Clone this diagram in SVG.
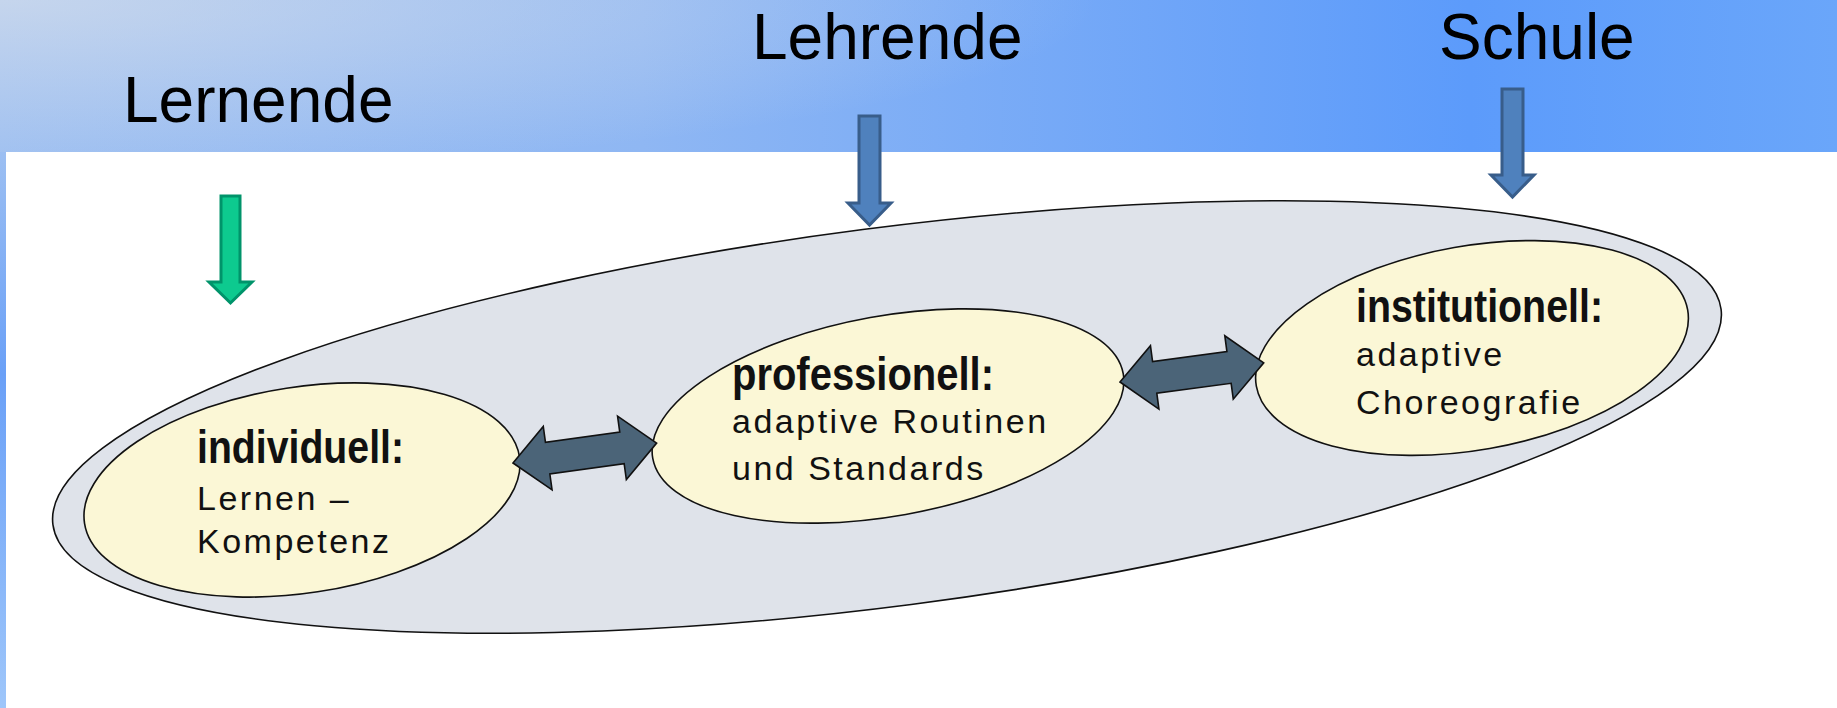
<svg xmlns="http://www.w3.org/2000/svg" width="1837" height="708" viewBox="0 0 1837 708">
  <defs>
    <!-- header band: blue ramp across, with a greyish glow in the upper left -->
    <linearGradient id="bandFill" gradientUnits="userSpaceOnUse" x1="0" y1="0" x2="1837" y2="0">
      <stop offset="0" stop-color="#9dbff1"/>
      <stop offset="0.35" stop-color="#8fb7f3"/>
      <stop offset="0.8" stop-color="#5c9bfb"/>
      <stop offset="1" stop-color="#6aa6fa"/>
    </linearGradient>
    <radialGradient id="bandGlow" gradientUnits="userSpaceOnUse" cx="0" cy="0" r="1"
                    gradientTransform="translate(0 0) scale(1100 175)">
      <stop offset="0" stop-color="#e0e4ea" stop-opacity="0.6"/>
      <stop offset="1" stop-color="#e0e4ea" stop-opacity="0"/>
    </radialGradient>
    <linearGradient id="edgeFill" x1="0" y1="0" x2="0" y2="1">
      <stop offset="0" stop-color="#9cbff2"/>
      <stop offset="0.4" stop-color="#6aa0f7"/>
      <stop offset="1" stop-color="#9ec6fa"/>
    </linearGradient>
    <path id="twoWay" d="M0,0 L35,-32 L35,-16 L110,-16 L110,-32 L145,0 L110,32 L110,16 L35,16 L35,32 Z"/>
  </defs>
  <style>
    .heading { font-family: "Liberation Sans", Arial, sans-serif; font-size: 64px; fill: #000; }
    .outer { fill: #dfe3ea; stroke: #111; stroke-width: 1.6; }
    .inner { fill: #fbf7d6; stroke: #111; stroke-width: 1.6; }
    .title { font-family: "Liberation Sans", Arial, sans-serif; font-weight: bold; font-size: 47px; fill: #111; }
    .body { font-family: "Liberation Sans", Arial, sans-serif; font-size: 34px; letter-spacing: 2.5px; fill: #111; }
    .link { fill: #4b6478; stroke: #111; stroke-width: 1.6; stroke-linejoin: miter; }
    .down-green { fill: #0dca8f; stroke: #00936a; stroke-width: 3; }
    .down-blue { fill: #4f81bd; stroke: #385d8a; stroke-width: 3; }
  </style>

  <!-- page background -->
  <rect x="0" y="0" width="1837" height="708" fill="#ffffff"/>
  <rect x="0" y="0" width="1837" height="152" fill="url(#bandFill)"/>
  <rect x="0" y="0" width="1837" height="152" fill="url(#bandGlow)"/>
  <rect x="0" y="152" width="6" height="556" fill="url(#edgeFill)"/>

  <!-- actor headings -->
  <g id="label-lernende"><text class="heading" x="123" y="122">Lernende</text></g>
  <g id="label-lehrende"><text class="heading" x="752" y="59">Lehrende</text></g>
  <g id="label-schule"><text class="heading" x="1439" y="59">Schule</text></g>

  <!-- enclosing level -->
  <g id="frame">
    <ellipse class="outer" cx="887" cy="417" rx="841" ry="189" transform="rotate(-7.36 887 417)"/>
  </g>

  <g id="node-individuell">
    <ellipse class="inner" cx="302" cy="490" rx="220" ry="103" transform="rotate(-8.7 302 490)"/>
    <text class="title" x="197" y="463" textLength="207" lengthAdjust="spacingAndGlyphs">individuell:</text>
    <text class="body" x="197" y="510">Lernen –</text>
    <text class="body" x="197" y="553">Kompetenz</text>
  </g>

  <g id="node-professionell">
    <ellipse class="inner" cx="888" cy="416" rx="239" ry="100" transform="rotate(-10.2 888 416)"/>
    <text class="title" x="732" y="390" textLength="262" lengthAdjust="spacingAndGlyphs">professionell:</text>
    <text class="body" x="732" y="433">adaptive Routinen</text>
    <text class="body" x="732" y="480">und Standards</text>
  </g>

  <g id="node-institutionell">
    <ellipse class="inner" cx="1472" cy="348" rx="219" ry="102" transform="rotate(-10 1472 348)"/>
    <text class="title" x="1356" y="322" textLength="247" lengthAdjust="spacingAndGlyphs">institutionell:</text>
    <text class="body" x="1356" y="366">adaptive</text>
    <text class="body" x="1356" y="414">Choreografie</text>
  </g>

  <g id="connectors">
    <!-- two-way links between levels -->
    <use href="#twoWay" class="link" transform="translate(513 463) rotate(-7.9)"/>
    <use href="#twoWay" class="link" transform="translate(1120 382) rotate(-7.6)"/>
    <!-- arrows from the actors down to the levels -->
    <path class="down-green" d="M221,196 H240 V282 H252 L230.5,303 L209,282 H221 Z"/>
    <path class="down-blue" d="M859,116 H880 V203 H891 L869.5,225 L848,203 H859 Z"/>
    <path class="down-blue" d="M1502,89 H1523 V175 H1534 L1512.5,197 L1491,175 H1502 Z"/>
  </g>
</svg>
